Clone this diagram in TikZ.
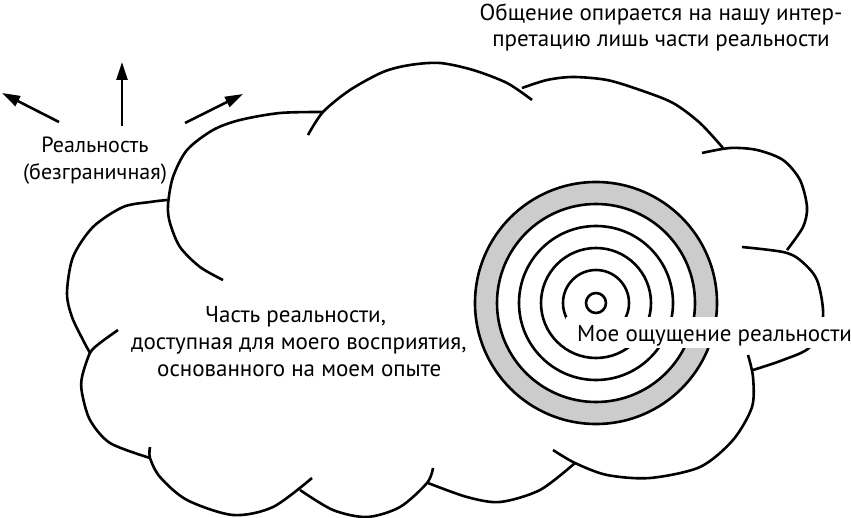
\documentclass[tikz,border=0pt]{standalone}
\usepackage{fontspec}
\setmainfont{PT Sans}
\usetikzlibrary{arrows.meta}
\begin{document}
\begin{tikzpicture}[x=1pt,y=-1pt,
  cloudline/.style={line width=2.6pt, black},
  ringline/.style={line width=2.6pt, black},
  arrowline/.style={line width=2.6pt, -{Triangle[length=18pt,width=11pt]}},
  lbl/.style={inner sep=0pt, font=\fontsize{23}{26.5}\selectfont, align=center},
  leftlbl/.style={inner sep=0pt, font=\fontsize{22}{27}\selectfont, align=center},
  midlbl/.style={inner sep=0pt, font=\fontsize{23}{27}\selectfont}]
\useasboundingbox (0,0) rectangle (851,518);
% cloud arcs
\draw[cloudline] plot[smooth] coordinates {(223,280) (200,267) (180,247) (170,223) (168,205) (173,177) (187,150) (213,130) (240,120) (280,113) (323,112)};
\draw[cloudline] plot[smooth] coordinates {(308,135) (323,112) (350,90) (383,72) (410,65) (440,63) (473,70) (507,83) (532,100)};
\draw[cloudline] plot[smooth] coordinates {(522,88) (547,80) (573,77) (607,80) (640,90) (673,103) (700,123) (723,148)};
\draw[cloudline] plot[smooth] coordinates {(702,153) (730,148) (757,150) (783,160) (800,180) (807,207) (803,227) (787,250)};
\draw[cloudline] plot[smooth] coordinates {(742,247) (783,252) (800,260) (817,280) (823,317) (810,347) (783,360) (753,370)};
\draw[cloudline] plot[smooth] coordinates {(748,355) (753,377) (752,407) (733,440) (700,467) (650,478) (607,475) (575,463) (553,450)};
\draw[cloudline] plot[smooth] coordinates {(575,463) (540,490) (500,502) (467,497) (428,483)};
\draw[cloudline] plot[smooth] coordinates {(433,468) (427,483) (400,507) (367,517) (333,510) (300,490)};
\draw[cloudline] plot[smooth] coordinates {(312,478) (273,507) (233,515) (187,500) (160,477) (150,458) (150,447)};
\draw[cloudline] plot[smooth] coordinates {(150,458) (110,443) (90,420) (82,393) (82,377) (90,353) (100,343) (118,330)};
\draw[cloudline] plot[smooth] coordinates {(90,353) (83,340) (72,317) (67,293) (73,257) (93,227) (123,207) (150,202) (167,200)};
% target rings
\coordinate (ctr) at (596,303);
\fill[black!20, even odd rule] (ctr) circle[radius=121pt] (ctr) circle[radius=99pt];
\foreach \r in {121,99,77,55,33,10} \draw[ringline] (ctr) circle[radius=\r pt];
% labels
\node[lbl, anchor=base] (top) at (661,47) {Общение опирается на нашу интер-\\претацию лишь части реальности};
\node[leftlbl, anchor=base] (real) at (95,180) {Реальность\\(безграничная)};
\node[midlbl, anchor=base west] (mid1) at (205,323) {Часть реальности,};
\node[midlbl, anchor=base west] (mid2) at (131,350) {доступная для моего восприятия,};
\node[midlbl, anchor=base west] (mid3) at (157,377) {основанного на моем опыте};
\node[font=\fontsize{23}{26}\selectfont, fill=white, inner ysep=0pt, inner xsep=11pt, text height=25pt, text depth=6pt, anchor=base west] (sense) at (566,342) {Мое ощущение реальности};
% arrows
\coordinate (aL) at (2,93);
\coordinate (aU) at (122,62);
\coordinate (aR) at (243,94);
\coordinate (tL) at (59,122);
\coordinate (tU) at (122,126);
\coordinate (tR) at (185,123);
\draw[arrowline] (tL) -- (aL);
\draw[arrowline] (tU) -- (aU);
\draw[arrowline] (tR) -- (aR);
\end{tikzpicture}
\end{document}
